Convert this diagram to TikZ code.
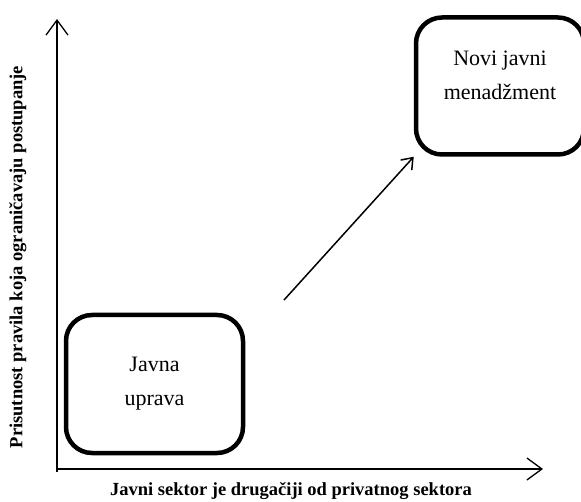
\documentclass[tikz,border=0pt]{standalone}
\usepackage{fontspec}
\setmainfont{Liberation Serif}
\usetikzlibrary{arrows.meta}
\tikzset{
    upbox/.style={draw, line width=4.5pt, rounded corners=26pt},
    axislabel/.style={font=\fontsize{18.5}{22}\selectfont\bfseries},
    boxtext/.style={align=center, font=\fontsize{22}{34}\selectfont},
    axisarrow/.style={-{Straight Barb[length=15pt,width=22pt,line width=1.3pt]}, line width=1.3pt}
}
\begin{document}
\begin{tikzpicture}[x=1pt, y=-1pt]
    \useasboundingbox (0,0) rectangle (581,502);

    \coordinate (origin) at (57,469);
    \coordinate (ytop) at (57,19);
    \coordinate (xend) at (543,469);
    \draw[line width=1.3pt] (57,472) -- (origin);
    \draw[axisarrow] (origin) -- (ytop);
    \draw[axisarrow] (origin) -- (xend);

    \node[axislabel] (xlab) at (291,491) {Javni sektor je drugačiji od privatnog sektora};
    \node[axislabel, rotate=90] (ylab) at (18,257) {Prisutnost pravila koja ograničavaju postupanje};

    \node[upbox, boxtext, minimum width=177pt, minimum height=138pt] (ju) at (154.5,384) {Javna\\uprava};
    \node[upbox, minimum width=168pt, minimum height=137pt] (njm) at (500,86) {};
    \node[boxtext] (njmtext) at (500,75) {Novi javni\\menadžment};

    \coordinate (start) at (284,300);
    \draw[-{Straight Barb[length=10pt,width=15pt,line width=1.5pt]}, line width=1.5pt] (start) -- (njm.south west);
\end{tikzpicture}
\end{document}
